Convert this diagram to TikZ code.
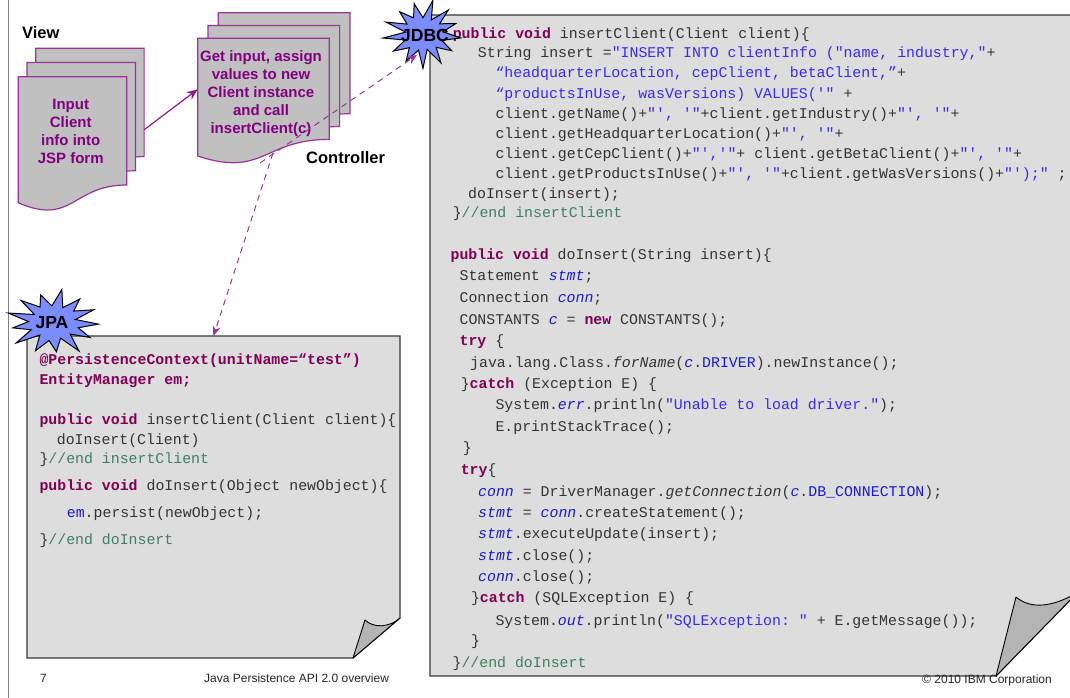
\documentclass[tikz,border=0pt]{standalone}
\usepackage{fontspec}
\setmainfont{Liberation Sans}
\setmonofont{Liberation Mono}
\usetikzlibrary{arrows.meta}

\definecolor{pagefill}{HTML}{C0C0C0}
\definecolor{pageline}{HTML}{993399}
\definecolor{purpletext}{HTML}{800080}
\definecolor{flowpurple}{HTML}{8A1A8A}
\definecolor{boxfill}{HTML}{DDDDDD}
\definecolor{flapfill}{HTML}{B4B4B4}
\definecolor{boxline}{HTML}{383838}
\definecolor{starfill}{HTML}{7B8CFF}
\definecolor{kwc}{HTML}{7F0055}
\definecolor{strc}{HTML}{3A2AF0}
\definecolor{cmtc}{HTML}{3F7F5F}
\definecolor{varc}{HTML}{1A1AD0}
\definecolor{codetext}{HTML}{333333}
\definecolor{framegray}{HTML}{808080}

% syntax colouring for the code listings
\newcommand\ckw[1]{{\bfseries\color{kwc}#1}}
\newcommand\cstr[1]{{\color{strc}#1}}
\newcommand\ccmt[1]{{\color{cmtc}#1}}
\newcommand\cvar[1]{{\itshape\color{varc}#1}}
\newcommand\cfld[1]{{\color{varc}#1}}

% one code line: name, x, y (middle of the text), content
\newcommand\codeline[4]{\node[codeln] (#1) at (#2,{#3+5}) {#4};}

% a flowchart "document" page: name, x, y (top left), width, height
\newcommand\docpage[5]{%
  \node[pagebox, minimum width=#4, minimum height=#5, anchor=north west] (#1) at (#2,#3) {};
  \filldraw[docshape] (#2,#3) -- ({#2+#4},#3) -- ({#2+#4},{#3+0.802*#5})
    .. controls ({#2+0.5*#4},{#3+0.802*#5}) and ({#2+0.5*#4},{#3+1.1075*#5}) .. (#2,{#3+0.934*#5}) -- cycle;}

\begin{document}
\begin{tikzpicture}[x=1pt,y=-1pt,
  pagebox/.style={rectangle, draw=none, inner sep=0pt, outer sep=0pt},
  docshape/.style={fill=pagefill, draw=pageline, line width=1.2pt, line join=miter},
  doctext/.style={align=center, text=purpletext, inner sep=0pt,
    font=\bfseries\fontsize{15}{18}\selectfont},
  sidelabel/.style={inner sep=0pt, font=\bfseries\fontsize{16.5}{18}\selectfont},
  codebox/.style={fill=boxfill, draw=boxline, line width=1.2pt, line join=miter},
  flap/.style={fill=flapfill, draw=black, line width=0.9pt, line join=round},
  burst/.style={fill=starfill, draw=black, line width=1pt, line join=miter},
  burstlabel/.style={inner sep=0pt, font=\bfseries\fontsize{17.5}{18}\selectfont},
  codeln/.style={anchor=base west, inner sep=0pt, text=codetext,
    font=\ttfamily\fontsize{14.87}{18}\selectfont},
  footer/.style={inner sep=0pt, text=black!85, font=\fontsize{12}{14}\selectfont},
  flowarrow/.style={draw=flowpurple, line width=1.2pt, -{Stealth[length=11pt,width=9pt]}},
  callarrow/.style={draw=pageline, line width=1pt, dash pattern=on 6pt off 5pt,
    -{Stealth[length=10pt,width=8pt]}},
]
\useasboundingbox (0,0) rectangle (1070,698);
\clip (0,0) rectangle (1070,698);
\fill[white] (0,0) rectangle (1070,698);

% slide frame
\draw[framegray, line width=1pt] (8,0) -- (8,698);

% ---------- View: stack of JSP pages ----------
\node[sidelabel, anchor=west] (viewlabel) at (22,33) {View};
\docpage{view1}{35.7}{48.3}{108.4}{135}
\docpage{view2}{27}{62.5}{108.4}{135}
\docpage{view3}{18.3}{76.7}{108.4}{135}
\node[doctext] (viewtext) at (70.7,131.5) {Input\\Client\\info into\\JSP form};

% ---------- Controller: stack of pages ----------
\docpage{ctrl1}{218.3}{12.7}{131.6}{126}
\docpage{ctrl2}{208}{25.5}{131.6}{126}
\docpage{ctrl3}{197.7}{38.3}{131.6}{126}
\node[doctext] (ctrltext) at (261,94) {Get input, assign\\values to new\\Client instance\\and call\\insertClient(c)};
\node[sidelabel, anchor=west] (ctrllabel) at (306,158) {Controller};

% ---------- JPA listing ----------
\node[pagebox, minimum width=373, minimum height=322, anchor=north west] (jpa) at (27,336) {};
\filldraw[codebox] (27,336) -- (400,336) -- (400,618) -- (353,658) -- (27,658) -- cycle;
\filldraw[flap] (353,658) -- (365,620) .. controls (373,628) and (389,628) .. (400,618) -- cycle;

\codeline{p1}{39.3}{359}{\ckw{@PersistenceContext(unitName=“test”)}}
\codeline{p2}{39.3}{379}{\ckw{EntityManager em;}}
\codeline{p3}{39.3}{419}{\ckw{public void} insertClient(Client client)\{}
\codeline{p4}{56.7}{439}{doInsert(Client)}
\codeline{p5}{39.3}{458}{\}\ccmt{//end insertClient}}
\codeline{p6}{39.3}{485}{\ckw{public void} doInsert(Object newObject)\{}
\codeline{p7}{66.7}{512}{\cfld{em}.persist(newObject);}
\codeline{p8}{39.3}{539}{\}\ccmt{//end doInsert}}

% ---------- JDBC listing ----------
\node[pagebox, minimum width=640, minimum height=661, anchor=north west] (jdbc) at (430,15) {};
\filldraw[codebox] (430,15) -- (1080,15) -- (1080,590) -- (996,676) -- (430,676) -- cycle;
\filldraw[flap] (996,676) -- (1016,597) .. controls (1030,609) and (1052,608) .. (1078,592) -- cycle;

\codeline{d1}{452.6}{34}{\ckw{public void} insertClient(Client client)\{}
\codeline{d2}{477.7}{53}{String insert =\cstr{"INSERT INTO clientInfo ("name, industry,"}+}
\codeline{d3}{495.3}{73}{\cstr{“headquarterLocation, cepClient, betaClient,”}+}
\codeline{d4}{495.3}{94}{\cstr{“productsInUse, wasVersions) VALUES('"} +}
\codeline{d5}{495.3}{114}{client.getName()+\cstr{"', '"}+client.getIndustry()+\cstr{"', '"}+}
\codeline{d6}{495.3}{134}{client.getHeadquarterLocation()+\cstr{"', '"}+}
\codeline{d7}{495.3}{153}{client.getCepClient()+\cstr{"','"}+ client.getBetaClient()+\cstr{"', '"}+}
\codeline{d8}{495.3}{173}{client.getProductsInUse()+\cstr{"', '"}+client.getWasVersions()+\cstr{"');"} ;}
\codeline{d9}{468}{193}{doInsert(insert);}
\codeline{d10}{452.6}{212}{\}\ccmt{//end insertClient}}

\codeline{e1}{450.4}{254}{\ckw{public void} doInsert(String insert)\{}
\codeline{e2}{459.4}{275}{Statement \cvar{stmt};}
\codeline{e3}{459.4}{297}{Connection \cvar{conn};}
\codeline{e4}{459.4}{319}{CONSTANTS \cvar{c} = \ckw{new} CONSTANTS();}
\codeline{e5}{459.4}{340}{\ckw{try} \{}
\codeline{e6}{470}{362}{java.lang.Class.\textit{forName}(\cvar{c}.\cfld{DRIVER}).newInstance();}
\codeline{e7}{460.6}{383}{\}\ckw{catch} (Exception E) \{}
\codeline{e8}{495.3}{404}{System.\cvar{err}.println(\cstr{"Unable to load driver."});}
\codeline{e9}{495.3}{426}{E.printStackTrace();}
\codeline{e10}{462.6}{447}{\}}
\codeline{e11}{460.6}{469}{\ckw{try}\{}
\codeline{e12}{478}{491}{\cvar{conn} = DriverManager.\textit{getConnection}(\cvar{c}.\cfld{DB\_CONNECTION});}
\codeline{e13}{478}{512}{\cvar{stmt} = \cvar{conn}.createStatement();}
\codeline{e14}{478}{533}{\cvar{stmt}.executeUpdate(insert);}
\codeline{e15}{478}{555}{\cvar{stmt}.close();}
\codeline{e16}{478}{576}{\cvar{conn}.close();}
\codeline{e17}{470.8}{597}{\}\ckw{catch} (SQLException E) \{}
\codeline{e18}{495.3}{620}{System.\cvar{out}.println(\cstr{"SQLException: "} + E.getMessage());}
\codeline{e19}{471}{640}{\}}
\codeline{e20}{452.4}{662}{\}\ccmt{//end doInsert}}

% ---------- bursts ----------
\filldraw[burst] plot[samples at={0,...,25}, variable=\k]
  ({423+(38-19*mod(\k,2))*(1+0.08*sin(\k*131))*cos(\k*360/26+7)},
   {34+(32-15*mod(\k,2))*(1+0.08*sin(\k*131))*sin(\k*360/26+7)}) -- cycle;
\node[burstlabel] (jdbclabel) at (425,35) {JDBC};

\filldraw[burst] plot[samples at={0,...,25}, variable=\k]
  ({53.5+(45-21*mod(\k,2))*(1+0.08*sin(\k*113))*cos(\k*360/26+3)},
   {322.5+(31-14*mod(\k,2))*(1+0.08*sin(\k*113))*sin(\k*360/26+3)}) -- cycle;
\node[burstlabel] (jpalabel) at (52,323) {JPA};

% ---------- connectors ----------
\draw[flowarrow] ([shift={(0,14)}]view1.east) -- ([shift={(0,-12)}]ctrl3.west);
\draw[callarrow] ([shift={(-3.5,61.7)}]ctrl3.center) -- ([shift={(-8,13.5)}]jdbclabel.south);
\draw[callarrow] ([shift={(9.5,51.7)}]ctrl3.center) -- (jpa.north);

% ---------- footer ----------
\node[footer, anchor=west] (pagenum) at (40,678) {7};
\node[footer, anchor=west] (doctitle) at (204,678) {Java Persistence API 2.0 overview};
\node[footer, anchor=east] (copyright) at (1052,680) {© 2010 IBM Corporation};
\end{tikzpicture}
\end{document}
